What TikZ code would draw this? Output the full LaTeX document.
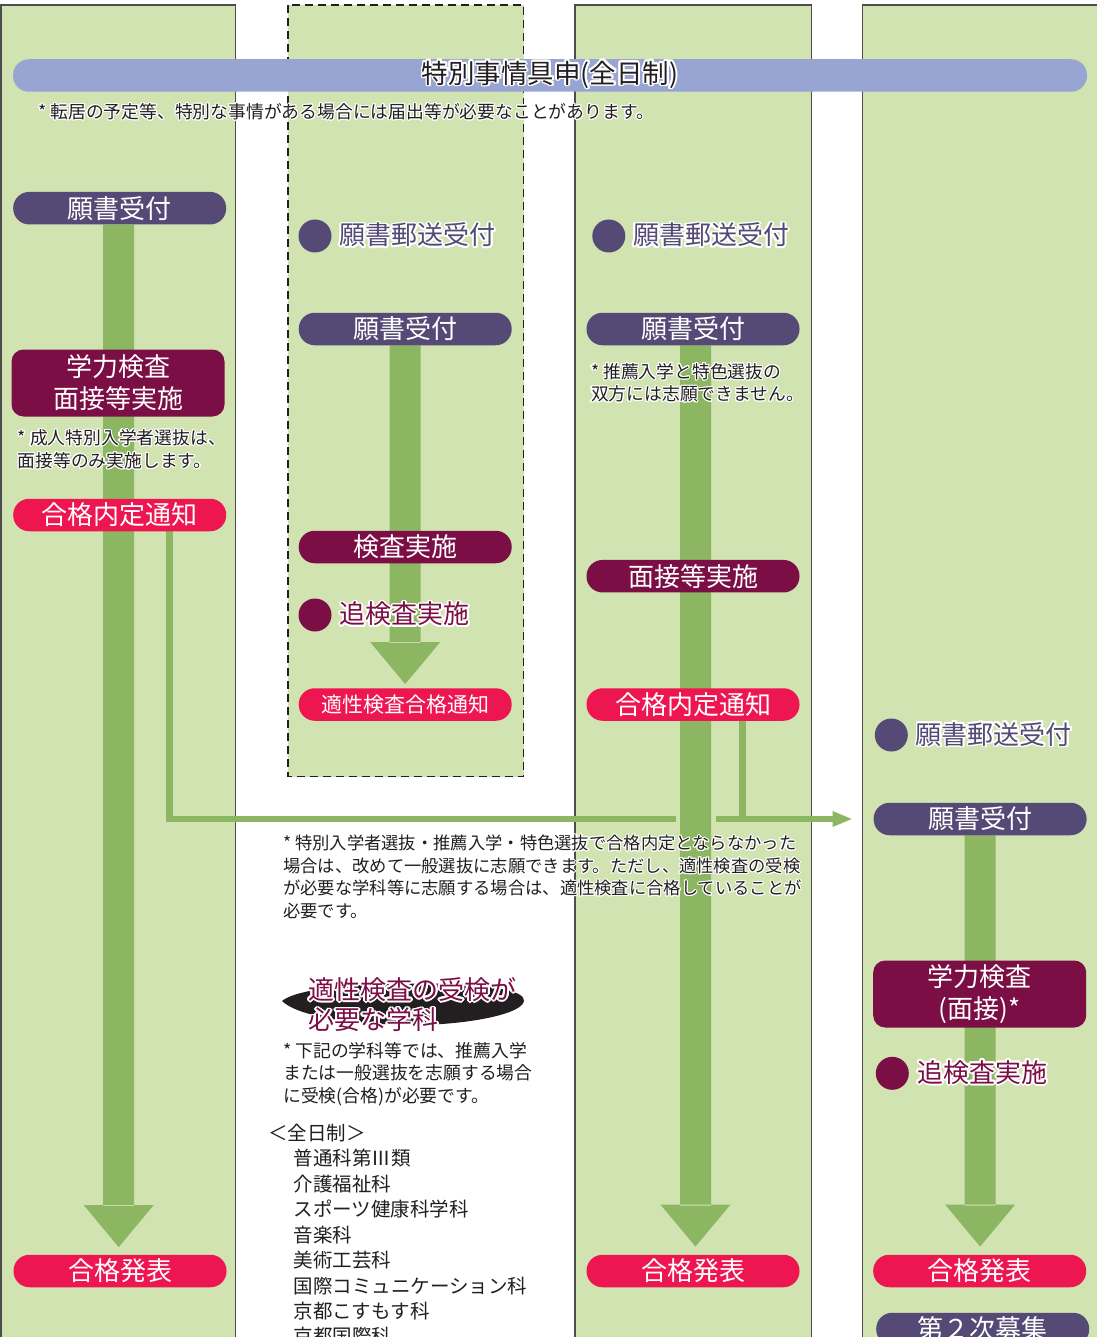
\documentclass[tikz,border=0pt]{standalone}
\usepackage{fontspec}
\setmainfont{Noto Sans CJK JP}
\usepackage{contour}
\usetikzlibrary{calc}
\definecolor{bgG}{HTML}{D0E3B1}
\definecolor{barG}{HTML}{8CB662}
\definecolor{lav}{HTML}{98A5D3}
\definecolor{pur}{HTML}{544A75}
\definecolor{mar}{HTML}{7C0E46}
\definecolor{crim}{HTML}{EE1651}
\definecolor{ink}{HTML}{231F20}
\definecolor{frame}{HTML}{4D4D4D}
\pgfdeclarelayer{bg}
\pgfdeclarelayer{mid}
\pgfsetlayers{bg,mid,main}
\newcommand\wo[1]{\contourlength{1.1pt}\contour{white}{#1}}
\newcommand\wO[1]{\contourlength{1.8pt}\contour{white}{#1}}
% thick flow arrow from node #1 to node #2, x offset #3, gap #4 above target
\newcommand\flowarrow[4]{%
  \fill[barG] let \p1=(#1.south), \p2=(#2.north) in
    (\x1+#3-15.5pt,\y1) rectangle (\x1+#3+15.5pt,\y2+#4+41pt)
    (\x1+#3-35pt,\y2+#4+42pt) -- (\x1+#3+35pt,\y2+#4+42pt) -- (\x1+#3,\y2+#4) -- cycle;}
\tikzset{
  pill/.style={rectangle, rounded corners=16pt, minimum width=213pt, minimum height=32.5pt,
    inner sep=0pt, text=white, font=\fontsize{26}{26}\selectfont},
  banner/.style={rectangle, rounded corners=16pt, fill=lav, minimum width=1074pt,
    minimum height=32.5pt, inner sep=0pt, text=ink, font=\fontsize{26.5}{26.5}\selectfont},
  box/.style={rectangle, rounded corners=12pt, fill=mar, minimum width=213pt, minimum height=67pt,
    inner sep=0pt, text=white, align=center, font=\fontsize{26}{32}\selectfont},
  dot/.style={circle, minimum size=33pt, inner sep=0pt},
  dlabel/.style={anchor=west, inner sep=0pt, font=\fontsize{26}{26}\selectfont},
  note/.style={anchor=base west, inner sep=0pt, text=ink, font=\fontsize{17.8}{17.8}\selectfont},
  midnote/.style={note, font=\fontsize{17.3}{17.3}\selectfont},
  item/.style={anchor=base west, inner sep=0pt, text=ink, font=\fontsize{19.5}{19.5}\selectfont},
  thinline/.style={barG, line width=6.5pt},
}
\begin{document}
\begin{tikzpicture}[x=1pt,y=-1pt]
\useasboundingbox (0,0) rectangle (1096,1337);

% ---------- nodes ----------
\node[banner] (ban) at (550,75.5) {\wO{特別事情具申(全日制)}};
\node[note] (n0) at (38,118.5) {\wo{* 転居の予定等、特別な事情がある場合には届出等が必要なことがあります。}};

% column 1
\node[pill, fill=pur] (c1a) at (119.7,208.2) {願書受付};
\node[box] (c1b) at (118,383) {学力検査\\面接等実施};
\node[note] (c1x1) at (17.5,444.5) {\wo{* 成人特別入学者選抜は、}};
\node[note] (c1x2) at (17.5,467.5) {\wo{面接等のみ実施します。}};
\node[pill, fill=crim] (c1n) at (119.7,515) {合格内定通知};
\node[pill, fill=crim] (c1f) at (120,1271) {合格発表};

% column 2
\node[dot, fill=pur] (c2m) at (315,236) {};
\node[dlabel, text=pur] (c2ml) at (339.5,236) {\wO{願書郵送受付}};
\node[pill, fill=pur] (c2r) at (405.2,329) {願書受付};
\node[pill, fill=mar] (c2k) at (405.2,547) {検査実施};
\node[dot, fill=mar] (c2d) at (315,615) {};
\node[dlabel, text=mar] (c2dl) at (339.5,615) {\wO{追検査実施}};
\node[pill, fill=crim, font=\fontsize{21}{21}\selectfont] (c2t) at (405.2,704.5) {適性検査合格通知};

% column 3
\node[dot, fill=pur] (c3m) at (608.8,236) {};
\node[dlabel, text=pur] (c3ml) at (633,236) {\wO{願書郵送受付}};
\node[pill, fill=pur] (c3r) at (693,329) {願書受付};
\node[note] (c3x1) at (590.8,378.2) {\wo{* 推薦入学と特色選抜の}};
\node[note] (c3x2) at (590.8,400.8) {\wo{双方には志願できません。}};
\node[pill, fill=mar] (c3k) at (693,576.2) {面接等実施};
\node[pill, fill=crim] (c3n) at (693,704.5) {合格内定通知};
\node[pill, fill=crim] (c3f) at (693,1271) {合格発表};

% column 4
\node[dot, fill=pur] (c4m) at (891.3,735) {};
\node[dlabel, text=pur] (c4ml) at (915.6,735) {\wO{願書郵送受付}};
\node[pill, fill=pur] (c4r) at (980.1,819) {願書受付};
\node[box] (c4b) at (979.7,994) {学力検査\\(面接)*};
\node[dot, fill=mar] (c4d) at (892.3,1073.3) {};
\node[dlabel, text=mar] (c4dl) at (917.3,1073.3) {\wO{追検査実施}};
\node[pill, fill=crim] (c4f) at (979.7,1271) {合格発表};
\node[pill, fill=pur] (c4s) at (982.7,1329) {第２次募集};

% middle notes
\node[midnote] (m1) at (283,849.8) {\wo{* 特別入学者選抜・推薦入学・特色選抜で合格内定とならなかった}};
\node[midnote] (m2) at (283,872.5) {\wo{場合は、改めて一般選抜に志願できます。ただし、適性検査の受検}};
\node[midnote] (m3) at (283,894.8) {\wo{が必要な学科等に志願する場合は、適性検査に合格していることが}};
\node[midnote] (m4) at (283,917.2) {\wo{必要です。}};

\fill[ink] (282,1001) .. controls (300,986) and (380,982) .. (450,984)
  .. controls (500,986) and (525,992) .. (524,1001)
  .. controls (522,1014) and (470,1024) .. (420,1025)
  .. controls (360,1025) and (300,1018) .. (282,1001) -- cycle;
\node[note, text=mar, font=\fontsize{26}{26}\selectfont] (sw1) at (308.3,999.2) {\wO{適性検査の受検が}};
\node[note, text=mar, font=\fontsize{26}{26}\selectfont] (sw2) at (308.3,1029.9) {\wO{必要な学科}};

\node[note] (k1) at (283,1057.2) {\wo{* 下記の学科等では、推薦入学}};
\node[note] (k2) at (283,1079.8) {\wo{または一般選抜を志願する場合}};
\node[note] (k3) at (283,1102.2) {\wo{に受検(合格)が必要です。}};

\node[item] (l0) at (268,1140.7) {＜全日制＞};
\node[item] (l1) at (293.3,1165.7) {普通科第Ⅲ類};
\node[item] (l2) at (293.3,1191.2) {介護福祉科};
\node[item] (l3) at (293.3,1216.6) {スポーツ健康科学科};
\node[item] (l4) at (293.3,1242.1) {音楽科};
\node[item] (l5) at (293.3,1267.5) {美術工芸科};
\node[item] (l6) at (293.3,1293.0) {国際コミュニケーション科};
\node[item] (l7) at (293.3,1318.4) {京都こすもす科};
\node[item] (l8) at (293.3,1343.9) {京都国際科};

% ---------- connectors ----------
\begin{pgfonlayer}{mid}
  \coordinate (j1) at ($(c1n.south)+(50,0)$);
  \coordinate (j3) at ($(c3n.south)+(49.5,0)$);
  \coordinate (h4) at ($(c4r.west)+(-40.3,0)$);
  \draw[thinline] (j1) |- (h4);
  \draw[thinline] (j3) -- (j3 |- c4r.west);
  \fill[barG] let \p1=(c4r.west) in
    (\x1-40.8pt,\y1+8pt) -- (\x1-21.8pt,\y1) -- (\x1-40.8pt,\y1-8pt) -- cycle;
  \fill[bgG] let \p1=(c3r.south), \p2=(c4r.west) in
    (\x1+2.5pt-20pt,\y2+6pt) rectangle (\x1+2.5pt+20pt,\y2-6pt);
  \flowarrow{c1a}{c1f}{-1pt}{7.5pt}
  \flowarrow{c2r}{c2t}{0pt}{4pt}
  \flowarrow{c3r}{c3f}{2.5pt}{8pt}
  \flowarrow{c4r}{c4f}{0pt}{8pt}
\end{pgfonlayer}

% ---------- columns ----------
\begin{pgfonlayer}{bg}
  \fill[white] (0,0) rectangle (1096,1337);
  \fill[bgG] (0,5) rectangle (235.5,1345);
  \draw[frame, line width=1.6pt] (0.8,1345) -- (0.8,5) -- (235.5,5) -- (235.5,1345);
  \filldraw[fill=bgG, draw=ink, line width=1.4pt, dash pattern=on 8pt off 5pt] (288,5) rectangle (523.5,776.5);
  \filldraw[fill=bgG, draw=frame, line width=1.6pt] (575,5) rectangle (811.5,1345);
  \filldraw[fill=bgG, draw=frame, line width=1.6pt] (862.5,5) rectangle (1110,1345);
\end{pgfonlayer}
\end{tikzpicture}
\end{document}
